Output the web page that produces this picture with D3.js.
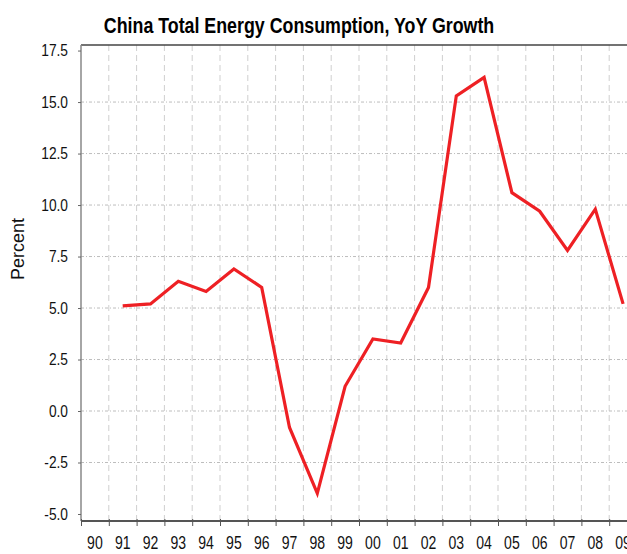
<!DOCTYPE html>
<html>
<head>
<meta charset="utf-8">
<script src="https://cdn.jsdelivr.net/npm/d3@7"></script>
<style>
    body { margin: 0; background: #fff; }
    svg { display: block; font-family: "Liberation Sans", Arial, sans-serif; }
</style>
</head>
<body>
<svg id="chart" width="627" height="554"></svg>
<script>
// x axis labels, one per year interval
let yearLabels = ["90", "91", "92", "93", "94", "95", "96", "97", "98", "99",
                  "00", "01", "02", "03", "04", "05", "06", "07", "08", "09"];
// yoy growth, percent (1991..2009)
let growthYears = [1991, 1992, 1993, 1994, 1995, 1996, 1997, 1998, 1999, 2000,
                   2001, 2002, 2003, 2004, 2005, 2006, 2007, 2008, 2009];
let growthValues = [5.1, 5.2, 6.3, 5.8, 6.9, 6.0, -0.8, -4.0, 1.2, 3.5,
                    3.3, 6.0, 15.3, 16.2, 10.6, 9.7, 7.8, 9.8, 5.2];
let yTicks = [-5.0, -2.5, 0.0, 2.5, 5.0, 7.5, 10.0, 12.5, 15.0, 17.5];

let svg = d3.select("#chart");
let plotLeft = 81, plotTop = 45, plotBottom = 521, plotRight = 637;

let x = d3.scaleLinear().domain([1990, 2010]).range([plotLeft, plotRight]);
let y = d3.scaleLinear().domain([-5.34, 17.77]).range([plotBottom, plotTop]);

// grid
let grid = svg.append("g");
grid.selectAll(".vg")
    .data(d3.range(1991, 2010))
    .enter().append("line")
    .attr("x1", d => x(d)).attr("x2", d => x(d))
    .attr("y1", plotTop).attr("y2", plotBottom)
    .attr("stroke", "#cfcfcf")
    .attr("stroke-width", 1)
    .attr("stroke-dasharray", "6,4");

grid.selectAll(".hg")
    .data(yTicks.filter(d => d > -5 && d < 17.5))
    .enter().append("line")
    .attr("x1", plotLeft).attr("x2", plotRight)
    .attr("y1", d => y(d)).attr("y2", d => y(d))
    .attr("stroke", "#bdbdbd")
    .attr("stroke-width", 1)
    .attr("stroke-dasharray", "3,2,1,2");

// top border
svg.append("line")
    .attr("x1", plotLeft).attr("x2", plotRight)
    .attr("y1", plotTop).attr("y2", plotTop)
    .attr("stroke", "#444").attr("stroke-width", 1.5);

// y axis
let yAxis = svg.append("g")
    .attr("transform", `translate(${plotLeft},0)`)
    .call(d3.axisLeft(y).tickValues(yTicks).tickSize(3).tickFormat(d => d.toFixed(1)));
yAxis.select(".domain").attr("stroke", "#888").attr("stroke-width", 1.5)
    .attr("d", `M0,${plotTop}V${plotBottom}`);
yAxis.selectAll(".tick line").attr("stroke", "#666");
yAxis.selectAll(".tick text")
    .attr("font-size", 16)
    .attr("fill", "#111")
    .attr("x", 0)
    .attr("dy", "0.32em")
    .attr("text-anchor", "end")
    .attr("transform", "translate(-13,0) scale(0.86,1)");

// x axis
let xAxis = svg.append("g")
    .attr("transform", `translate(0,${plotBottom})`)
    .call(d3.axisBottom(x).tickValues(d3.range(1990, 2011)).tickSize(5).tickFormat(""));
xAxis.select(".domain").attr("stroke", "#555").attr("stroke-width", 2)
    .attr("d", `M${plotLeft},0H${plotRight}`);
xAxis.selectAll(".tick line").attr("stroke", "#555").attr("y1", -2);

svg.append("g").selectAll("text")
    .data(yearLabels)
    .enter().append("text")
    .attr("transform", (d, i) => `translate(${x(1990 + i + 0.5)},${plotBottom + 28}) scale(0.74,1)`)
    .attr("text-anchor", "middle")
    .attr("font-size", 19)
    .attr("fill", "#111")
    .text(d => d);

// line
let line = d3.line()
    .x((d, i) => x(growthYears[i] + 0.5))
    .y(d => y(d));

svg.append("path")
    .datum(growthValues)
    .attr("fill", "none")
    .attr("stroke", "#ee2024")
    .attr("stroke-width", 3.2)
    .attr("stroke-linejoin", "miter")
    .attr("d", line);

// title
svg.append("text")
    .attr("transform", "translate(299,33) scale(0.81,1)")
    .attr("text-anchor", "middle")
    .attr("font-size", 22)
    .attr("font-weight", "bold")
    .attr("fill", "#000")
    .text("China Total Energy Consumption, YoY Growth");

// y label
svg.append("text")
    .attr("transform", "translate(24,249) rotate(-90)")
    .attr("text-anchor", "middle")
    .attr("font-size", 18)
    .attr("fill", "#111")
    .text("Percent");
</script>
</body>
</html>
